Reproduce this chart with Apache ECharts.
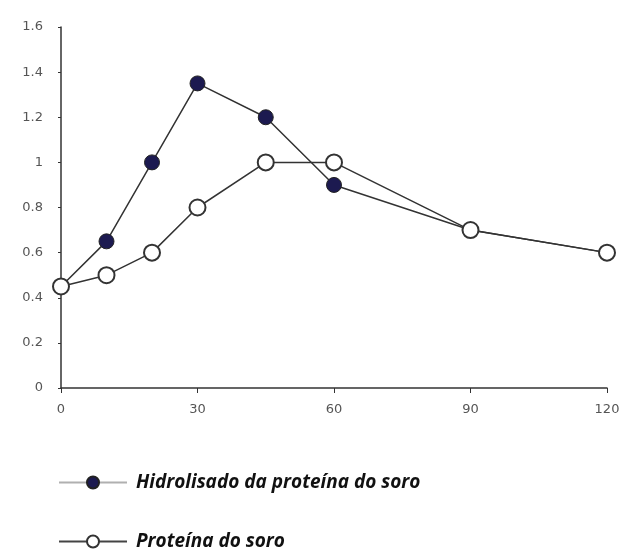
<!DOCTYPE html>
<html><head><meta charset="utf-8">
<script src="https://cdn.jsdelivr.net/npm/echarts@6/dist/echarts.min.js"></script>
<style>html,body{margin:0;padding:0;background:#fff}#c{width:625px;height:550px}</style>
</head><body><div id="c"></div>
<script>
const times = [0, 10, 20, 30, 45, 60, 90, 120];
const hidrolisado = [0.45, 0.65, 1.0, 1.35, 1.2, 0.9, 0.7, 0.6];
const proteina = [0.45, 0.5, 0.6, 0.8, 1.0, 1.0, 0.7, 0.6];
const seriesNames = ['Hidrolisado da proteína do soro', 'Proteína do soro'];

const legendText = {fontFamily: 'Open Sans', fontWeight: 'bold', fontStyle: 'italic', fontSize: 19, color: '#111', padding: [0, 0, 0, 4]};
const chart = echarts.init(document.getElementById('c'));
chart.setOption({
  animation: false,
  grid: {left: 61, right: 18, top: 27, bottom: 162},
  xAxis: {
    type: 'value', min: 0, max: 120, interval: 30,
    axisLine: {lineStyle: {color: '#333', width: 1.5}},
    axisTick: {show: true, length: 5, lineStyle: {color: '#333'}},
    axisLabel: {color: '#555', fontFamily: 'DejaVu Sans', fontSize: 13, margin: 15},
    splitLine: {show: false}
  },
  yAxis: {
    type: 'value', min: 0, max: 1.6, interval: 0.2,
    axisLine: {show: true, lineStyle: {color: '#333', width: 1.5}},
    axisTick: {show: true, length: 3, lineStyle: {color: '#333'}},
    axisLabel: {color: '#555', fontFamily: 'DejaVu Sans', fontSize: 13, margin: 18,
      formatter: v => String(Math.round(v * 10) / 10)},
    splitLine: {show: false}
  },
  legend: [
    {
      left: 53, top: 468, itemWidth: 68, itemHeight: 15, itemGap: 10,
      textStyle: legendText,
      data: [{name: seriesNames[0], lineStyle: {color: '#b0b0b0', width: 2}}]
    },
    {
      left: 53, top: 527, itemWidth: 68, itemHeight: 15, itemGap: 10,
      textStyle: legendText,
      data: [{name: seriesNames[1], lineStyle: {color: '#444', width: 2}}]
    }
  ],
  series: [
    {
      name: seriesNames[0], type: 'line',
      data: times.map((t, i) => [t, hidrolisado[i]]),
      symbol: 'circle', symbolSize: 15,
      lineStyle: {color: '#333', width: 1.5},
      itemStyle: {color: '#1c1a50', borderColor: '#222', borderWidth: 1}
    },
    {
      name: seriesNames[1], type: 'line',
      data: times.map((t, i) => [t, proteina[i]]),
      symbol: 'circle', symbolSize: 16,
      lineStyle: {color: '#333', width: 1.5},
      itemStyle: {color: '#fff', borderColor: '#333', borderWidth: 2}
    }
  ]
});
</script></body></html>
